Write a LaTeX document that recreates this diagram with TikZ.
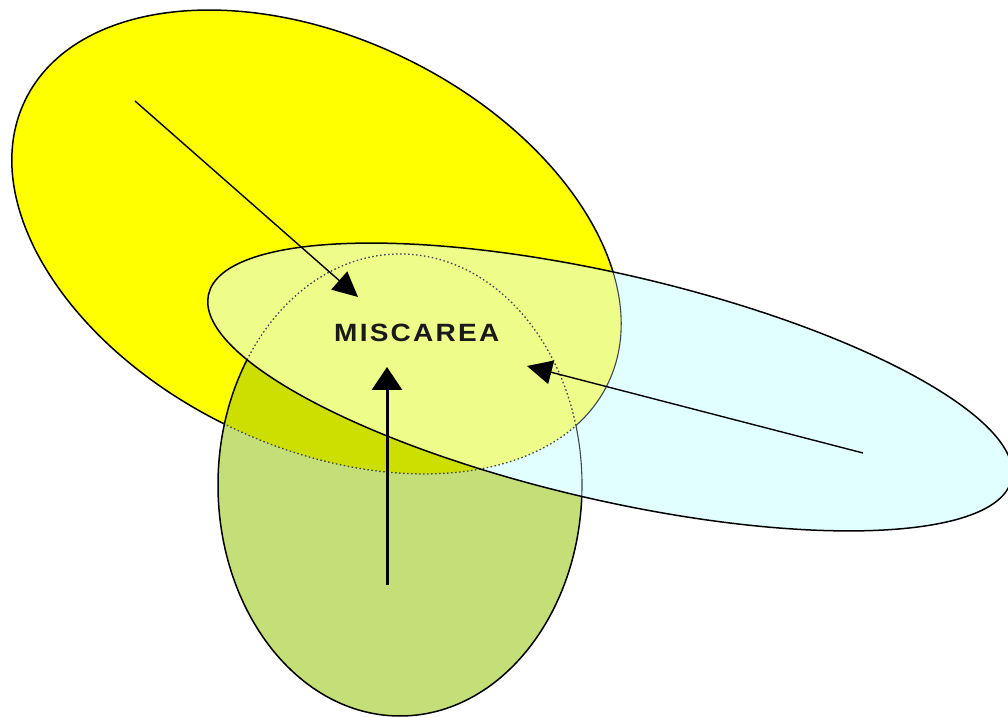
\documentclass[tikz,border=0pt]{standalone}
\usepackage{fontspec}
\setmainfont{Liberation Sans}
\usetikzlibrary{arrows.meta}
\definecolor{colY}{HTML}{FFFF00}
\definecolor{colG}{HTML}{C5DF78}
\definecolor{colYG}{HTML}{CDDF00}
\definecolor{colC}{HTML}{E2FFFF}
\definecolor{colCY}{HTML}{EEFC8A}
\definecolor{slate}{HTML}{3B4656}
\definecolor{ink}{HTML}{1A1A1A}
\begin{document}
\begin{tikzpicture}[x=1pt,y=1pt,
  Ypath/.style={insert path={(316.5,475) ellipse [x radius=324pt, y radius=204pt, rotate=-26]}},
  Gpath/.style={insert path={(400,232) ellipse [x radius=182pt, y radius=231pt]}},
  Cpath/.style={insert path={(610,330) ellipse [x radius=412pt, y radius=113pt, rotate=-13]}},
  Frame/.style={insert path={(-50,-50) rectangle (1060,770)}},
  outline/.style={draw=black, line width=1.5pt},
  hidden/.style={draw=slate, line width=1.3pt, dash pattern=on 1.5pt off 2.5pt},
  faint/.style={draw=slate, line width=1.1pt},
  ptr/.style={-{Triangle[length=25pt,width=24pt]}, line width=1.4pt},
  bigptr/.style={-{Triangle[length=23pt,width=30pt]}, line width=3pt},
  ]
\useasboundingbox (0,0) rectangle (1008,717);
\fill[white] (0,0) rectangle (1008,717);
% fills
\fill[colY, Ypath];
\fill[colG, Gpath];
\begin{scope}\clip[Ypath]; \fill[colYG, Gpath]; \end{scope}
\fill[colC, Cpath];
\begin{scope}\clip[Ypath]; \fill[colCY, Cpath]; \end{scope}
% yellow boundary
\begin{scope}[even odd rule]
  \clip[Frame, Gpath];
  \clip[Frame, Cpath];
  \draw[outline, Ypath];
\end{scope}
\begin{scope}\clip[Gpath]; \draw[hidden, Ypath]; \end{scope}
\begin{scope}[even odd rule]
  \clip[Cpath];
  \clip[Frame, Gpath];
  \draw[faint, Ypath];
\end{scope}
% green boundary
\begin{scope}[even odd rule]\clip[Frame, Cpath]; \draw[outline, Gpath]; \end{scope}
\begin{scope}\clip[Cpath]; \clip[Ypath]; \draw[hidden, Gpath]; \end{scope}
\begin{scope}[even odd rule]
  \clip[Cpath];
  \clip[Frame, Ypath];
  \draw[faint, Gpath];
\end{scope}
% cyan boundary
\draw[outline, Cpath];
% label
\node[font=\bfseries\fontsize{25}{25}\selectfont\addfontfeatures{LetterSpace=8},
      text=ink, anchor=base west, inner sep=0, xscale=1.12] (label) at (334,375) {MISCAREA};
% arrows
\coordinate (s1) at (135,616);
\coordinate (t1) at (358,420);
\coordinate (s2) at (863,264);
\coordinate (t2) at (527,351);
\coordinate (s3) at (387,132);
\coordinate (t3) at (387,350);
\draw[ptr] (s1) -- (t1);
\draw[ptr] (s2) -- (t2);
\draw[bigptr] (s3) -- (t3);
\end{tikzpicture}
\end{document}
